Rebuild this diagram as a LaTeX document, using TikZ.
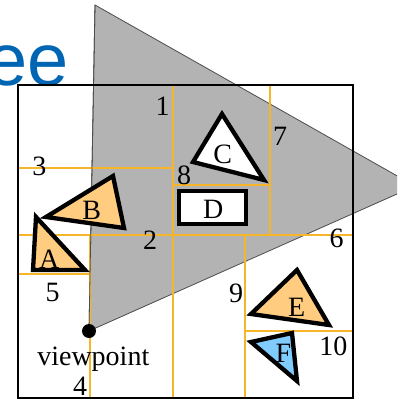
\documentclass[tikz,border=0pt]{standalone}
\usepackage{fontspec}
\setmainfont{Liberation Serif}
\newfontfamily\titlefont{Liberation Sans}
\definecolor{gridc}{RGB}{247,181,41}
\definecolor{shadec}{RGB}{179,179,179}
\definecolor{orangefill}{RGB}{255,204,128}
\definecolor{bluefill}{RGB}{128,204,255}
\definecolor{titleblue}{RGB}{0,102,179}
\tikzset{
  gridline/.style={draw=gridc,line width=1.3pt},
  poly/.style={draw=black,line width=4.3pt,line join=miter,miter limit=3},
  lab/.style={inner sep=0pt,font=\fontsize{28}{32}\selectfont},
}
\begin{document}
\begin{tikzpicture}[x=1pt,y=-1pt]
\useasboundingbox (0,0) rectangle (397,399);
\clip (0,0) rectangle (397,399);
\fill[white] (0,0) rectangle (397,399);
% title fragment
\node[anchor=base east,inner sep=0pt,text=titleblue,font=\titlefont\fontsize{74}{80}\selectfont] (title) at (69,85) {ee};
% view frustum
\filldraw[fill=shadec,draw=black!70,line width=0.8pt] (95,5) -- (415,186) -- (89,331) -- cycle;
% BSP split lines
\draw[gridline] (173,85) -- (173,398);
\draw[gridline] (18,168) -- (173,168);
\draw[gridline] (173,185) -- (270,185);
\draw[gridline] (270,85) -- (270,235);
\draw[gridline] (18,235) -- (353,235);
\draw[gridline] (90,235) -- (90,398);
\draw[gridline] (18,274) -- (90,274);
\draw[gridline] (245,235) -- (245,398);
\draw[gridline] (245,331) -- (353,331);
\draw[black!70,line width=0.8pt] (95,5) -- (89,331);
% frame
\draw[line width=2pt] (18,85) rectangle (353,398);
% objects
\draw[poly,fill=orangefill] (36,217) -- (33,270) -- (85,270) -- cycle;
\draw[poly,fill=orangefill] (46,217) -- (113,176) -- (124,228) -- cycle;
\draw[poly,fill=white] (222,114) -- (264,180) -- (193,162) -- cycle;
\draw[line width=3.3pt,fill=white] (179,191) rectangle (246,224);
\draw[poly,fill=orangefill] (297,270) -- (251,314) -- (329,325) -- cycle;
\draw[poly,fill=bluefill] (251,342) -- (292,333) -- (297,381) -- cycle;
% viewpoint
\fill (89,331) circle (7);
% labels
\node[lab] (l1) at (162.7,106.7) {1};
\node[lab] (l3) at (39.3,166.7) {3};
\node[lab] (l8) at (184,175) {8};
\node[lab] (l7) at (280,136.7) {7};
\node[lab] (lC) at (222.7,154) {C};
\node[lab] (lD) at (213.3,209.3) {D};
\node[lab] (lB) at (91.7,210) {B};
\node[lab] (lA) at (49.3,259) {A};
\node[lab] (l2) at (150,240) {2};
\node[lab] (l5) at (52.7,292.7) {5};
\node[lab] (l4) at (80,386) {4};
\node[lab,anchor=base] (lv) at (93.3,365) {viewpoint};
\node[lab] (l6) at (336.7,238.3) {6};
\node[lab] (l9) at (236,293.3) {9};
\node[lab] (lE) at (296.7,307.3) {E};
\node[lab] (lF) at (283.3,353.3) {F};
\node[lab] (l10) at (333.3,346.7) {10};
\end{tikzpicture}
\end{document}
